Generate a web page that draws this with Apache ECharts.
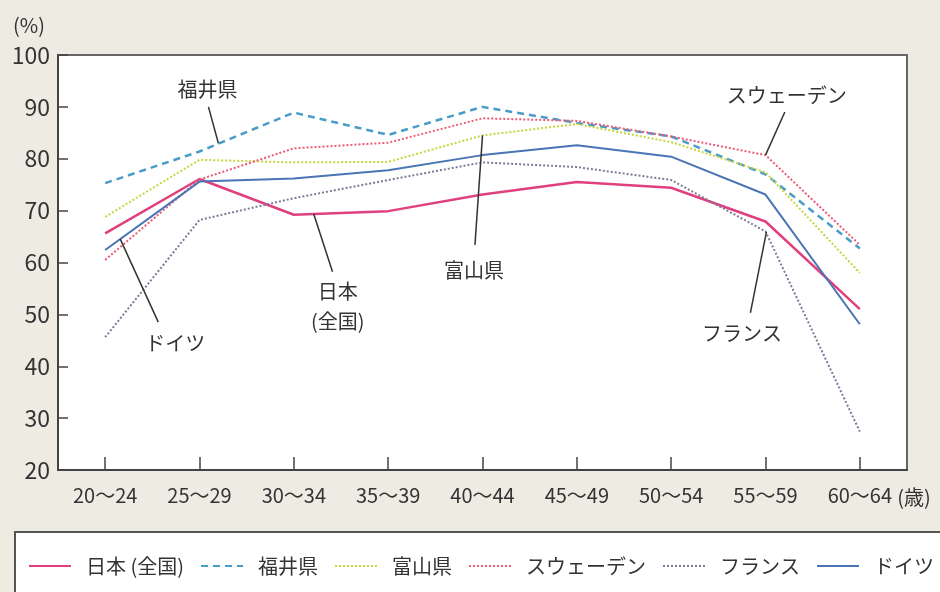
<!DOCTYPE html>
<html><head><meta charset="utf-8">
<script src="https://cdn.jsdelivr.net/npm/echarts@6/dist/echarts.min.js"></script>
<style>html,body{margin:0;padding:0;background:#eeebe2}#c{width:940px;height:592px}</style>
</head><body><div id="c"></div>
<script>
const categories = ['20～24','25～29','30～34','35～39','40～44','45～49','50～54','55～59','60～64'];
const japan   = [65.6, 76.1, 69.2, 69.9, 73.1, 75.5, 74.4, 67.9, 51.0];
const fukui   = [75.3, 81.4, 88.9, 84.6, 90.0, 86.9, 84.3, 77.0, 62.7];
const toyama  = [68.8, 79.8, 79.3, 79.4, 84.5, 86.7, 83.2, 77.4, 58.0];
const sweden  = [60.5, 76.0, 82.0, 83.1, 87.8, 87.3, 84.3, 80.7, 63.4];
const france  = [45.6, 68.2, 72.4, 75.9, 79.3, 78.4, 75.9, 66.0, 27.4];
const germany = [62.4, 75.6, 76.2, 77.8, 80.7, 82.6, 80.4, 73.1, 48.1];
const seriesNames = ['日本 (全国)', '福井県', '富山県', 'スウェーデン', 'フランス', 'ドイツ'];
const yMin = 20, yMax = 100, yStep = 10;

const FONT = '"Noto Sans CJK JP", "Noto Sans", sans-serif';
const chart = echarts.init(document.getElementById('c'));

function mk(name, data, color, type, width) {
  return { name, type: 'line', data, symbol: 'none', z: 3,
    lineStyle: { color, type, width }, itemStyle: { color } };
}

const option = {
  backgroundColor: '#eeebe2',
  animation: false,
  textStyle: { fontFamily: FONT },
  grid: { left: 58, right: 33, top: 55, bottom: 122, show: true,
    backgroundColor: '#ffffff', borderColor: '#666', borderWidth: 2 },
  legend: {
    data: seriesNames, left: 28, top: 556, padding: 0, width: 940,
    itemWidth: 42, itemHeight: 14, itemGap: 16,
    itemStyle: { opacity: 0 },
    textStyle: { fontSize: 20, color: '#333', fontFamily: FONT, padding: [0, 0, 0, 10] }
  },
  xAxis: {
    type: 'category', data: categories, boundaryGap: true,
    axisLine: { lineStyle: { color: '#444', width: 2 } },
    axisTick: { show: true, inside: true, alignWithLabel: true, length: 13, lineStyle: { color: '#444', width: 1.5 } },
    axisLabel: { fontSize: 20, color: '#333', margin: 15, interval: 0 },
    splitLine: { show: false }
  },
  yAxis: {
    type: 'value', min: yMin, max: yMax, interval: yStep,
    axisLine: { show: true, lineStyle: { color: '#444', width: 2 } },
    axisTick: { show: true, inside: true, length: 10, lineStyle: { color: '#444', width: 1.5 } },
    axisLabel: { fontSize: 23, color: '#333', margin: 8 },
    splitLine: { show: false }
  },
  series: [
    mk(seriesNames[0], japan, '#e0407e', 'solid', 2.5),
    mk(seriesNames[1], fukui, '#4a9cc8', [7, 5], 2.5),
    mk(seriesNames[2], toyama, '#c8d43c', [2, 2], 2),
    mk(seriesNames[3], sweden, '#ec5a76', [2, 2], 2),
    mk(seriesNames[4], france, '#7c7a98', [2, 2], 2),
    mk(seriesNames[5], germany, '#4a74b4', 'solid', 2)
  ]
};
chart.setOption(option);

// annotations in data coordinates [category index (fractional), value]
const notes = [
  { text: '福井県', at: [1.084, 93.4], from: [1.20, 83.0], to: [1.095, 90.0] },
  { text: 'スウェーデン', at: [7.226, 92.3], from: [7, 80.7], to: [7.205, 89.0] },
  { text: '富山県', at: [3.91, 58.4], from: [4, 84.5], to: [3.92, 63.4] },
  { text: '日本\n(全国)', at: [2.465, 51.6], from: [2.21, 69.4], to: [2.41, 58.2] },
  { text: 'ドイツ', at: [0.744, 44.5], from: [0.16, 64.5], to: [0.563, 48.5] },
  { text: 'フランス', at: [6.75, 46.4], from: [7.01, 65.9], to: [6.84, 50.3] }
];
function px(ci, v) {
  const a = chart.convertToPixel({ gridIndex: 0 }, [0, v]);
  const b = chart.convertToPixel({ gridIndex: 0 }, [1, v]);
  return [a[0] + ci * (b[0] - a[0]), a[1]];
}
const graphics = [
  { type: 'rect', z: 0, shape: { x: 15, y: 532, width: 940, height: 80 },
    style: { fill: '#ffffff', stroke: '#555', lineWidth: 2 } },
  { type: 'text', x: 29, y: 25, z: 5,
    style: { text: '(%)', fill: '#333', font: '20px ' + FONT, align: 'center', verticalAlign: 'middle' } },
  { type: 'text', x: 914, y: 497, z: 5,
    style: { text: '(歳)', fill: '#333', font: '20px ' + FONT, align: 'center', verticalAlign: 'middle' } }
];
notes.forEach(n => {
  const p1 = px(n.from[0], n.from[1]);
  const p2 = px(n.to[0], n.to[1]);
  const pt = px(n.at[0], n.at[1]);
  graphics.push({ type: 'line', z: 10, shape: { x1: p1[0], y1: p1[1], x2: p2[0], y2: p2[1] },
    style: { stroke: '#333', lineWidth: 1.5 } });
  graphics.push({ type: 'text', z: 10, x: pt[0], y: pt[1],
    style: { text: n.text, fill: '#333', font: '20px ' + FONT, align: 'center', verticalAlign: 'middle', lineHeight: 30 } });
});
chart.setOption({ graphic: graphics });
</script>
</body></html>
